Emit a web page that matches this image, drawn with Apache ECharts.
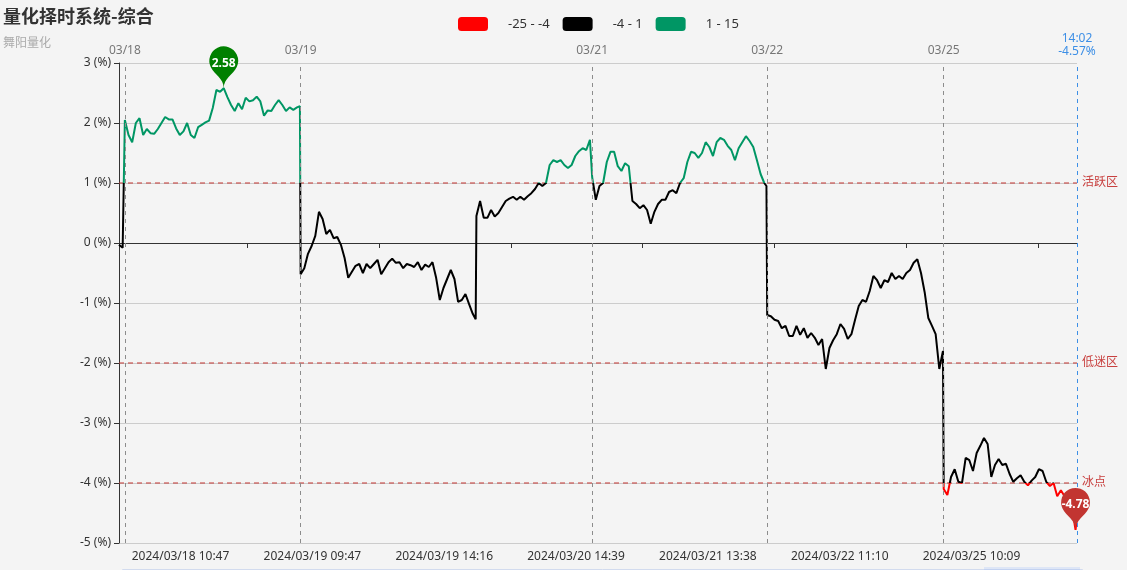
<!DOCTYPE html>
<html>
<head>
<meta charset="utf-8">
<title>量化择时系统-综合</title>
<script src="https://cdn.jsdelivr.net/npm/echarts@6/dist/echarts.min.js"></script>
<style>
html, body { margin: 0; padding: 0; background: #f4f4f4; }
#main { width: 1127px; height: 570px; }
</style>
</head>
<body>
<div id="main"></div>
<script>
// trading minutes on the category axis, one category per minute
const sessions = [
    ['2024/03/15', [['14:52', '14:59']]],
    ['2024/03/18', [['09:31', '11:30'], ['13:00', '14:59']]],
    ['2024/03/19', [['09:31', '11:30'], ['13:00', '14:59']]],
    ['2024/03/20', [['10:53', '11:30'], ['13:01', '15:00']]],
    ['2024/03/21', [['09:31', '11:30'], ['13:00', '14:58']]],
    ['2024/03/22', [['09:31', '11:30'], ['13:00', '15:00']]],
    ['2024/03/25', [['09:31', '11:30'], ['13:00', '14:02']]]
]

// values (%) every 5 minutes from each day's first minute, last one = day's last minute
const v0315 = [-0.03, -0.08, -0.1]
const v0318 = [2.05, 1.8, 1.68, 2.0, 2.08, 1.8, 1.9, 1.83, 1.82, 1.9, 2.0, 2.1, 2.06, 2.06, 1.91, 1.8, 1.86, 2.0, 1.8, 1.75,
    1.93, 1.97, 2.01, 2.04, 2.25, 2.55, 2.52, 2.58, 2.43, 2.3, 2.2, 2.33, 2.23, 2.42, 2.36, 2.38, 2.44, 2.36, 2.12, 2.21,
    2.2, 2.3, 2.38, 2.3, 2.2, 2.26, 2.22, 2.26, 2.28]
const v0319 = [-0.52, -0.42, -0.18, -0.05, 0.12, 0.52, 0.4, 0.15, 0.22, 0.08, 0.1, -0.03, -0.25, -0.58, -0.48, -0.38, -0.35,
    -0.5, -0.35, -0.42, -0.35, -0.28, -0.52, -0.42, -0.32, -0.26, -0.33, -0.32, -0.42, -0.35, -0.37, -0.4, -0.32, -0.45,
    -0.36, -0.4, -0.32, -0.58, -0.95, -0.75, -0.6, -0.45, -0.6, -0.98, -0.95, -0.85, -1.02, -1.18, -1.27]
const v0320 = [0.45, 0.7, 0.42, 0.42, 0.55, 0.44, 0.5, 0.6, 0.7, 0.74, 0.77, 0.72, 0.77, 0.72, 0.78, 0.83, 0.9, 1.0, 0.95,
    1.0, 1.3, 1.38, 1.35, 1.38, 1.3, 1.25, 1.3, 1.45, 1.53, 1.58, 1.55, 1.72, 1.74]
const v0321 = [1.1, 0.72, 0.95, 1.0, 1.35, 1.52, 1.52, 1.28, 1.2, 1.33, 1.28, 0.7, 0.65, 0.58, 0.63, 0.55, 0.32, 0.52, 0.65,
    0.72, 0.72, 0.85, 0.88, 0.83, 1.0, 1.08, 1.35, 1.52, 1.5, 1.42, 1.5, 1.68, 1.6, 1.45, 1.68, 1.75, 1.72, 1.62, 1.55,
    1.38, 1.58, 1.68, 1.78, 1.7, 1.6, 1.38, 1.15, 1.0, 0.95]
const v0322 = [-1.2, -1.22, -1.28, -1.3, -1.42, -1.38, -1.55, -1.55, -1.38, -1.53, -1.42, -1.58, -1.5, -1.58, -1.7, -1.6,
    -2.1, -1.75, -1.62, -1.52, -1.35, -1.43, -1.6, -1.52, -1.28, -1.05, -0.95, -0.98, -0.8, -0.55, -0.62, -0.75, -0.62,
    -0.65, -0.5, -0.6, -0.55, -0.6, -0.5, -0.45, -0.33, -0.27, -0.5, -0.82, -1.25, -1.38, -1.52, -2.1, -1.8]
const v0325 = [-4.1, -4.2, -3.9, -3.77, -3.98, -4.0, -3.58, -3.62, -3.8, -3.5, -3.38, -3.25, -3.35, -3.9, -3.7, -3.6, -3.7,
    -3.68, -3.85, -3.98, -3.92, -3.87, -3.98, -4.04, -3.96, -3.9, -3.77, -3.8, -3.98, -4.05, -4.0, -4.22, -4.12, -4.22,
    -4.3, -4.4, -4.78, -4.57]
const dayValues = [v0315, v0318, v0319, v0320, v0321, v0322, v0325]
const sampleStep = 5

// dates marked on top axis, zone lines, last quote
const markedDays = ['2024/03/18', '2024/03/19', '2024/03/21', '2024/03/22', '2024/03/25']
const zoneValues = [1, -2, -4]
const zoneNames = ['活跃区', '低迷区', '冰点']
const lastChange = '-4.57%'
const bottomLabelFirst = 84
const bottomLabelStep = 180
const zeroTickFirst = 175

function toMin(hm) {
    const p = hm.split(':')
    return +p[0] * 60 + +p[1]
}
function pad(n) {
    return String(n).padStart(2, '0')
}

let categories = []
let dayStart = {}
sessions.forEach(([day, ranges]) => {
    dayStart[day] = categories.length
    ranges.forEach(([a, b]) => {
        for (let t = toMin(a); t <= toMin(b); t++) {
            categories.push(day + ' ' + pad(Math.floor(t / 60)) + ':' + pad(t % 60))
        }
    })
})
const lastIdx = categories.length - 1

let lineData = []
sessions.forEach(([day], d) => {
    const start = dayStart[day]
    const n = (d + 1 < sessions.length ? dayStart[sessions[d + 1][0]] : categories.length) - start
    const vals = dayValues[d]
    vals.forEach((v, i) => {
        const off = i < vals.length - 1 ? i * sampleStep : n - 1
        lineData.push([start + off, v])
    })
})

const markedIdx = new Set(markedDays.map(d => dayStart[d]))

let dayLines = markedDays.map(d => ({
    xAxis: categories[dayStart[d]],
    lineStyle: { color: '#8c8c8c', type: [4, 4], width: 1 },
    label: { show: false }
}))
dayLines.push({
    xAxis: categories[lastIdx],
    lineStyle: { color: '#3d8fe6', type: [4, 4], width: 1 },
    label: {
        show: true,
        position: 'end',
        color: '#3d8fe6',
        fontSize: 12,
        lineHeight: 13,
        formatter: categories[lastIdx].slice(11) + '\n' + lastChange
    }
})

// zone threshold lines as plain two-point series
const zoneSeries = zoneValues.map((y, i) => ({
    name: zoneNames[i],
    type: 'line',
    data: [[0, y], [lastIdx, y]],
    symbol: 'none',
    silent: true,
    z: 2,
    color: '#c23531',
    lineStyle: { color: '#c23531', type: [5, 4], width: 1 },
    endLabel: { show: true, formatter: zoneNames[i], color: '#c8403f', fontSize: 12, distance: 5, padding: [3, 0, 0, 0] }
}))

const chart = echarts.init(document.getElementById('main'))
const option = {
    backgroundColor: '#f4f4f4',
    animation: false,
    textStyle: { fontFamily: '"Noto Sans", "Noto Sans CJK SC", sans-serif' },
    title: {
        text: '量化择时系统-综合',
        subtext: '舞阳量化',
        left: 0,
        top: 2,
        padding: [5, 5, 5, 3],
        itemGap: 11,
        textStyle: { fontSize: 18, fontWeight: 'bold', color: '#333', fontFamily: '"Noto Sans CJK SC", sans-serif' },
        subtextStyle: { fontSize: 12, color: '#aaa', fontFamily: '"Noto Sans CJK SC", sans-serif' }
    },
    visualMap: {
        type: 'piecewise',
        orient: 'horizontal',
        seriesIndex: [0],
        left: 453,
        top: 12,
        padding: 5,
        itemWidth: 30,
        itemHeight: 14,
        itemGap: 13,
        textGap: 20,
        textStyle: { color: '#333', fontSize: 13 },
        pieces: [
            { min: -25, max: -4, color: '#ff0000' },
            { min: -4, max: 1, color: '#000000' },
            { min: 1, max: 15, color: '#009664' }
        ]
    },
    grid: { left: 119, right: 50, top: 63, bottom: 27 },
    xAxis: [
        {
            type: 'category',
            data: categories,
            boundaryGap: false,
            position: 'bottom',
            axisLine: { show: false, onZero: false },
            axisTick: { show: false },
            splitLine: { show: false },
            axisLabel: {
                color: '#333',
                fontSize: 12,
                margin: 8,
                interval: i => i >= bottomLabelFirst && (i - bottomLabelFirst) % bottomLabelStep === 0
            }
        },
        {
            type: 'category',
            data: categories,
            boundaryGap: false,
            position: 'top',
            axisLine: { show: false, onZero: false },
            axisTick: { show: false },
            splitLine: { show: false },
            axisLabel: {
                color: '#777',
                fontSize: 12,
                margin: 6,
                interval: i => markedIdx.has(i),
                formatter: v => v.slice(5, 10)
            }
        },
        {
            type: 'category',
            data: categories,
            boundaryGap: false,
            position: 'bottom',
            axisLine: { show: true, onZero: true, lineStyle: { color: '#333', width: 1 } },
            axisTick: {
                show: true,
                length: 5,
                lineStyle: { color: '#333' },
                interval: i => i >= zeroTickFirst && (i - zeroTickFirst) % bottomLabelStep === 0
            },
            axisLabel: { show: false },
            splitLine: { show: false }
        }
    ],
    yAxis: {
        type: 'value',
        min: -5,
        max: 3,
        interval: 1,
        axisLine: { show: true, lineStyle: { color: '#333' } },
        axisTick: { show: true, lineStyle: { color: '#333' } },
        axisLabel: { formatter: '{value} (%)', color: '#333', fontSize: 12, padding: [3, 0, 0, 0] },
        splitLine: { lineStyle: { color: '#cccccc' } }
    },
    graphic: [
        { type: 'rect', left: 120, top: 567, shape: { width: 960, height: 30 }, style: { fill: 'none', stroke: '#d2dbee' } },
        { type: 'rect', left: 984, top: 567, shape: { width: 96, height: 30 }, style: { fill: 'rgba(135,175,274,0.2)' } }
    ],
    series: [
        {
            name: '综合',
            type: 'line',
            data: lineData,
            showSymbol: false,
            lineStyle: { width: 2 },
            z: 3,
            markPoint: {
                symbol: 'pin',
                symbolSize: 48,
                label: { color: '#fff', fontSize: 12, fontWeight: 'bold' },
                data: [
                    { type: 'max', itemStyle: { color: '#008000' } },
                    { type: 'min', itemStyle: { color: '#c23531' } }
                ]
            }
        },
        {
            name: 'days',
            type: 'line',
            data: [],
            z: 2,
            markLine: {
                symbol: 'none',
                silent: true,
                data: dayLines
            }
        }
    ].concat(zoneSeries)
}
chart.setOption(option)
</script>
</body>
</html>
